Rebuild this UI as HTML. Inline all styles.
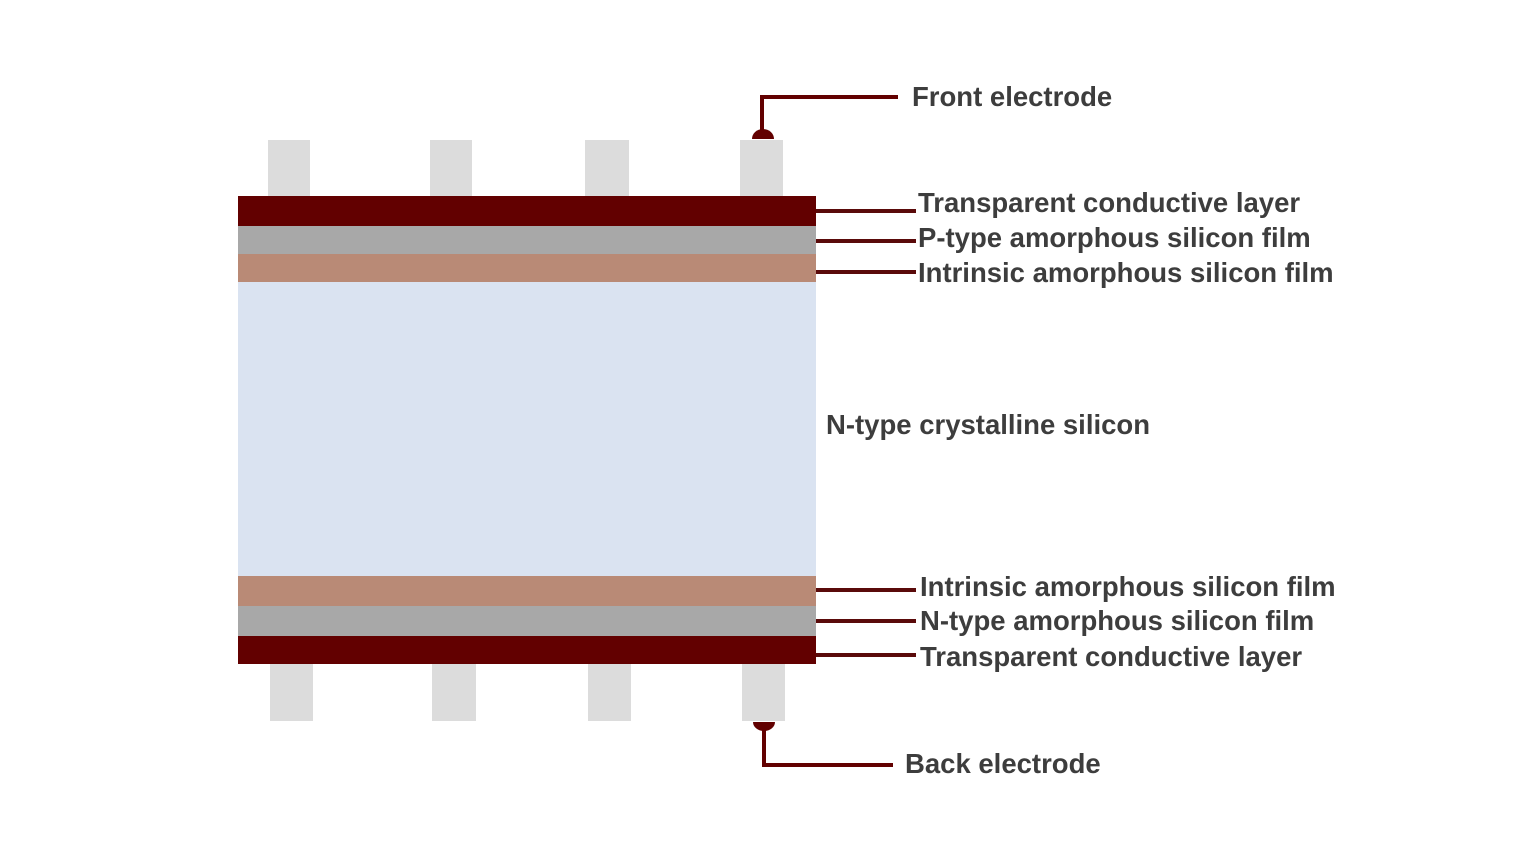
<!DOCTYPE html>
<html><head><style>
body{margin:0;width:1536px;height:864px;background:#fff;position:relative;overflow:hidden;font-family:"Liberation Sans",sans-serif}
.r{position:absolute}
.e{position:absolute;background:#dcdcdc}
.l{position:absolute;height:4px;background:#5a0a0a}
.t{position:absolute;font-size:27.5px;font-weight:bold;color:#3d3d3d;line-height:30px;white-space:nowrap}
</style></head><body>
<div class="e" style="left:268px;top:140px;width:42px;height:56px"></div>
<div class="e" style="left:430px;top:140px;width:42px;height:56px"></div>
<div class="e" style="left:585px;top:140px;width:44px;height:56px"></div>
<div class="e" style="left:740px;top:140px;width:43px;height:56px"></div>
<div class="r" style="left:238px;top:196px;width:578px;height:30px;background:#620000"></div>
<div class="r" style="left:238px;top:226px;width:578px;height:28px;background:#a8a8a8"></div>
<div class="r" style="left:238px;top:254px;width:578px;height:28px;background:#b98a76"></div>
<div class="r" style="left:238px;top:282px;width:578px;height:294px;background:#dae3f1"></div>
<div class="r" style="left:238px;top:576px;width:578px;height:30px;background:#b98a76"></div>
<div class="r" style="left:238px;top:606px;width:578px;height:30px;background:#a8a8a8"></div>
<div class="r" style="left:238px;top:636px;width:578px;height:28px;background:#620000"></div>
<div class="e" style="left:270px;top:664px;width:43px;height:57px"></div>
<div class="e" style="left:432px;top:664px;width:44px;height:57px"></div>
<div class="e" style="left:588px;top:664px;width:43px;height:57px"></div>
<div class="e" style="left:742px;top:664px;width:43px;height:57px"></div>
<svg class="r" style="left:0;top:0" width="1536" height="864">
<g fill="#620000" stroke="none">
<path d="M752 139 A11 10 0 0 1 774 139 Z"/>
<rect x="760" y="95" width="4" height="36"/><rect x="760" y="95" width="138" height="4"/>
<path d="M753 722 A11 9 0 0 0 775 722 Z"/>
<rect x="762" y="725" width="4" height="42"/><rect x="762" y="763" width="131" height="4"/>
</g></svg>
<div class="l" style="left:816px;top:209px;width:100px"></div>
<div class="l" style="left:816px;top:239px;width:100px"></div>
<div class="l" style="left:816px;top:270px;width:100px"></div>
<div class="l" style="left:816px;top:588px;width:100px"></div>
<div class="l" style="left:816px;top:619px;width:100px"></div>
<div class="l" style="left:816px;top:653px;width:100px"></div>
<div class="t" style="left:912px;top:82px">Front electrode</div>
<div class="t" style="left:918px;top:188px">Transparent conductive layer</div>
<div class="t" style="left:918px;top:223px">P-type amorphous silicon film</div>
<div class="t" style="left:918px;top:258px">Intrinsic amorphous silicon film</div>
<div class="t" style="left:826px;top:410px">N-type crystalline silicon</div>
<div class="t" style="left:920px;top:572px">Intrinsic amorphous silicon film</div>
<div class="t" style="left:920px;top:606px">N-type amorphous silicon film</div>
<div class="t" style="left:920px;top:642px">Transparent conductive layer</div>
<div class="t" style="left:905px;top:749px">Back electrode</div>
</body></html>
